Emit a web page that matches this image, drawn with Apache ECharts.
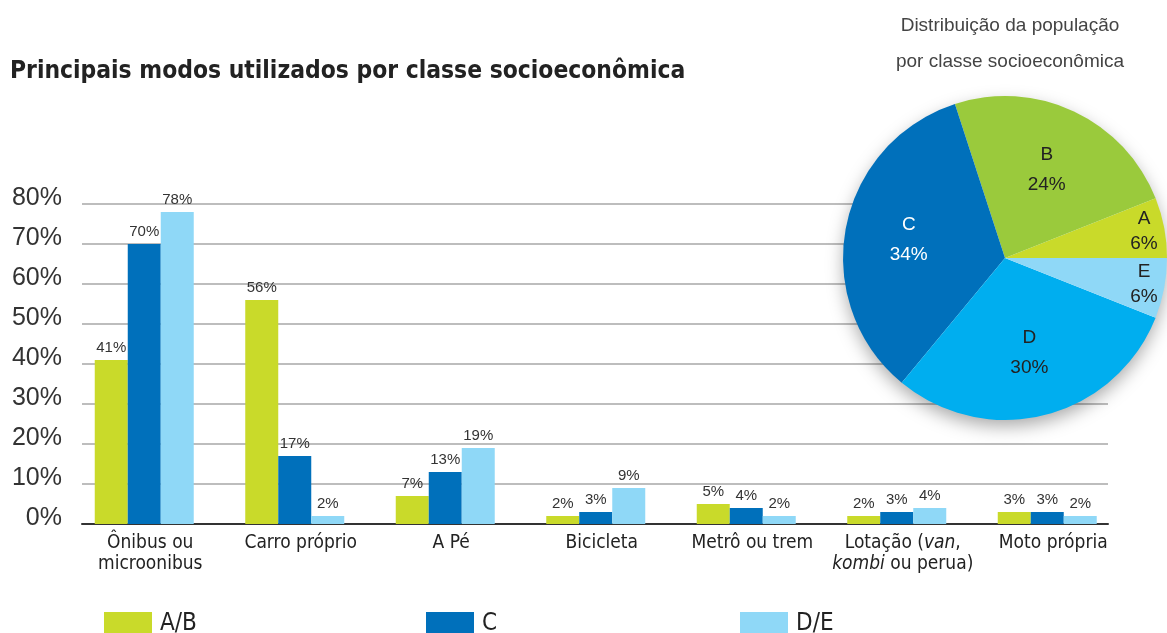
<!DOCTYPE html>
<html><head><meta charset="utf-8">
<script src="https://cdn.jsdelivr.net/npm/echarts@6/dist/echarts.min.js"></script>
<style>html,body{margin:0;padding:0;background:#fff}#c{width:1167px;height:633px}</style>
</head><body><div id="c"></div>
<script>
const categories = ['Ônibus ou\nmicroonibus','Carro próprio','A Pé','Bicicleta','Metrô ou trem','Lotação ({i|van},\n{i|kombi} ou perua)','Moto própria'];
const seriesNames = ['A/B','C','D/E'];
const valuesAB = [41,56,7,2,5,2,3];
const valuesC  = [70,17,13,3,4,3,3];
const valuesDE = [78,2,19,9,2,4,2];
const yTicks = [0,10,20,30,40,50,60,70,80];
const pieClasses = ['A','B','C','D','E'];
const pieValues = [6,24,34,30,6];

const barColors = ['#c9da2a','#0070bb','#8fd8f7'];
const pieColors = ['#c9da2a','#9aca3c','#0070bb','#00aeef','#8fd8f7'];
const narrow = '"Liberation Sans Narrow","DejaVu Sans Condensed",sans-serif';
const regular = '"Liberation Sans",Arial,sans-serif';

const chart = echarts.init(document.getElementById('c'));
const barSeries = [valuesAB, valuesC, valuesDE].map((v,i)=>({
  name: seriesNames[i], type:'bar', xAxisIndex:0, yAxisIndex:0,
  data: v, barWidth:33, barGap:'0%',
  itemStyle:{color:barColors[i]},
  label:{show:true, position:'top', distance:5, formatter:'{c}%', fontFamily:regular, fontSize:15, color:'#333'},
  z:3
}));
function pieData(showSet){
  return pieClasses.map((n,i)=>({name:n, value:pieValues[i],
    label:{show: showSet.includes(n), color: n==='C' ? '#fff' : '#222'}}));
}
function labelPie(radius, showSet, lh){
  return {type:'pie', silent:true, center:pieCenter, radius:[0,radius], startAngle:0, clockwise:false, z:7,
     itemStyle:{color:'transparent'}, data: pieData(showSet), avoidLabelOverlap:false,
     labelLayout:{hideOverlap:false},
     label:{position:'inside', formatter:'{b}\n{c}%', fontFamily:regular, fontSize:19, lineHeight:lh}, labelLine:{show:false}};
}
const pieCenter = [1005,258];
const option = {
  animation:false,
  title:[
    {text:'Principais modos utilizados por classe socioeconômica', left:5, top:55,
     textStyle:{fontFamily:narrow, fontSize:24.4, fontWeight:'bold', color:'#222'}},
    {text:'Distribuição da população\npor classe socioeconômica', left:1005, top:3, textAlign:'center',
     textStyle:{fontFamily:regular, fontSize:19, fontWeight:'normal', color:'#444', lineHeight:36}}
  ],
  legend: seriesNames.map((n,i)=>({
    data:[n], left:[99,421,735][i], top:607, itemWidth:48, itemHeight:24, icon:'rect',
    textStyle:{fontFamily:narrow, fontSize:24, color:'#222', padding:[0,0,0,3]}, selectedMode:false
  })),
  grid:[
    {left:69, right:44.5, top:204, bottom:109},
    {left:82, right:59, top:204, bottom:109}
  ],
  xAxis:[
    {type:'category', gridIndex:0, data:categories,
     axisLine:{show:false}, axisTick:{show:false},
     axisLabel:{interval:0, margin:9, fontFamily:narrow, fontSize:19, color:'#222', lineHeight:21, padding:[0,0,0,12],
       rich:{i:{fontStyle:'italic', fontFamily:narrow, fontSize:19, color:'#222', lineHeight:21}}}},
    {type:'value', gridIndex:1, min:0, max:1, show:true,
     axisLine:{show:true, lineStyle:{color:'#333', width:2}}, axisTick:{show:false},
     axisLabel:{show:false}, splitLine:{show:false}}
  ],
  yAxis:[
    {type:'value', gridIndex:0, min:0, max:80, interval:10, show:false},
    {type:'value', gridIndex:1, min:yTicks[0], max:yTicks[yTicks.length-1], interval:10,
     axisLine:{show:false}, axisTick:{show:false},
     axisLabel:{formatter:'{value}%', margin:20, fontFamily:regular, fontSize:25, color:'#333',
       verticalAlign:'bottom', lineHeight:11},
     splitLine:{lineStyle:{color:'#bdbdbd', width:2}}}
  ],
  series:[
    ...barSeries,
    {type:'pie', silent:true, center:pieCenter, radius:161, z:5, label:{show:false}, labelLine:{show:false},
     data:[{value:1, name:'', itemStyle:{color:'#fff', shadowBlur:18, shadowColor:'rgba(0,0,0,0.35)', shadowOffsetY:7}}]},
    {type:'pie', silent:true, center:pieCenter, radius:162, startAngle:0, clockwise:false, z:6,
     data: pieClasses.map((n,i)=>({name:n, value:pieValues[i], itemStyle:{color:pieColors[i]}})),
     label:{show:false}, labelLine:{show:false}},
    labelPie(190, ['B','C','D'], 30),
    labelPie(277, ['A'], 25),
    labelPie(277, ['E'], 25)
  ]
};
chart.setOption(option);
</script></body></html>
